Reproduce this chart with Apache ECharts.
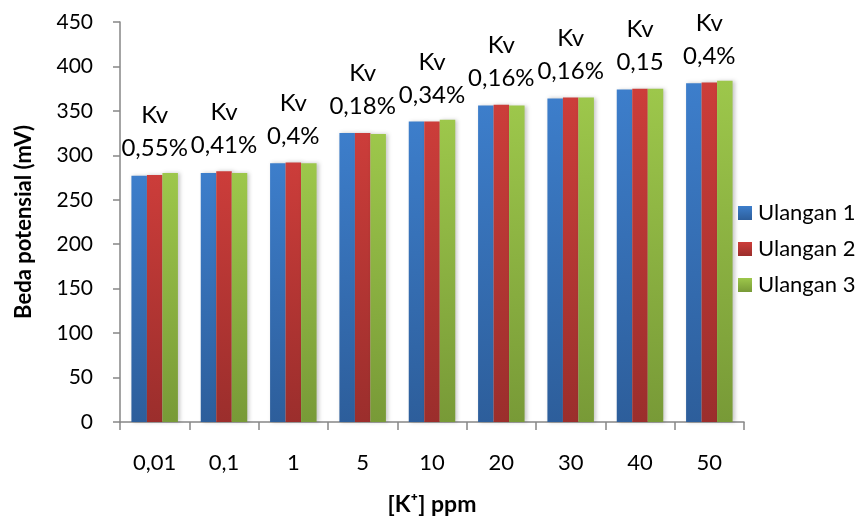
<!DOCTYPE html>
<html>
<head>
<meta charset="utf-8">
<script src="https://cdn.jsdelivr.net/npm/echarts@6/dist/echarts.min.js"></script>
<style>
  html, body { margin: 0; padding: 0; background: #ffffff; }
  #chart { width: 863px; height: 521px; }
</style>
</head>
<body>
<div id="chart"></div>
<script>
// Concentration levels of K+ (ppm)
var categories = ['0,01', '0,1', '1', '5', '10', '20', '30', '40', '50'];

// Potential difference (mV) for each repetition
var ulangan1 = [277, 280, 291, 325, 338, 356, 364, 374, 381];
var ulangan2 = [278, 282, 292, 325, 338, 357, 365, 375, 382];
var ulangan3 = [280, 280, 291, 324, 340, 356, 365, 375, 384];

// Coefficient of variation for each concentration
var kvValues = ['0,55%', '0,41%', '0,4%', '0,18%', '0,34%', '0,16%', '0,16%', '0,15', '0,4%'];

// Y axis range
var yMin = 0, yMax = 450, yStep = 50;

var FONT = 'Lato';

function grad(top, bottom) {
  return new echarts.graphic.LinearGradient(0, 0, 0, 1, [
    { offset: 0, color: top },
    { offset: 1, color: bottom }
  ]);
}

function barSeries(name, data, top, bottom, withLabel) {
  var s = {
    name: name,
    type: 'bar',
    data: data,
    barWidth: 15.5,
    barGap: '0%',
    itemStyle: {
      color: grad(top, bottom),
      shadowColor: 'rgba(0,0,0,0.22)',
      shadowBlur: 4,
      shadowOffsetX: 2,
      shadowOffsetY: 0
    },
    emphasis: { disabled: true }
  };
  if (withLabel) {
    // "Kv" caption with the coefficient of variation above each group
    s.label = {
      show: true,
      position: 'top',
      distance: 10,
      fontFamily: FONT,
      fontSize: 24,
      lineHeight: 33,
      color: '#000000',
      align: 'center',
      formatter: function (p) { return 'Kv\n' + kvValues[p.dataIndex]; }
    };
  }
  return s;
}

var chart = echarts.init(document.getElementById('chart'), null, { renderer: 'canvas' });

chart.setOption({
  animation: false,
  backgroundColor: '#ffffff',
  textStyle: { fontFamily: FONT },
  grid: { left: 120, right: 119, top: 22, bottom: 96, containLabel: false },
  legend: {
    orient: 'vertical',
    left: 733,
    top: 197,
    itemWidth: 14,
    itemHeight: 14,
    itemGap: 14,
    icon: 'rect',
    textStyle: { fontFamily: FONT, fontSize: 22, lineHeight: 22, color: '#000000', padding: [0, 0, 0, 1] },
    data: ['Ulangan 1', 'Ulangan 2', 'Ulangan 3']
  },
  xAxis: {
    type: 'category',
    data: categories,
    name: '[K\u207A] ppm',
    nameLocation: 'middle',
    nameGap: 71,
    nameTextStyle: { fontFamily: FONT, fontSize: 23, fontWeight: 'bold', color: '#000000' },
    axisLine: { lineStyle: { color: '#868686', width: 1.5 } },
    axisTick: { show: true, alignWithLabel: false, length: 8, inside: false, lineStyle: { color: '#868686', width: 1.5 } },
    axisLabel: { margin: 30, fontFamily: FONT, fontSize: 22, color: '#000000' }
  },
  yAxis: {
    type: 'value',
    min: yMin,
    max: yMax,
    interval: yStep,
    name: 'Beda potensial (mV)',
    nameLocation: 'middle',
    nameGap: 85,
    nameTextStyle: { fontFamily: FONT, fontSize: 22, fontWeight: 'bold', color: '#000000' },
    splitLine: { show: false },
    axisLine: { show: true, lineStyle: { color: '#868686', width: 1.5 } },
    axisTick: { show: true, length: 7, lineStyle: { color: '#868686', width: 1.5 } },
    axisLabel: { margin: 27, fontFamily: FONT, fontSize: 21, color: '#000000' }
  },
  series: [
    barSeries('Ulangan 1', ulangan1, '#3d7ecb', '#2d5e9b', false),
    barSeries('Ulangan 2', ulangan2, '#cc3d3a', '#9b2e2c', true),
    barSeries('Ulangan 3', ulangan3, '#9dc74b', '#789a37', false)
  ]
});
</script>
</body>
</html>
